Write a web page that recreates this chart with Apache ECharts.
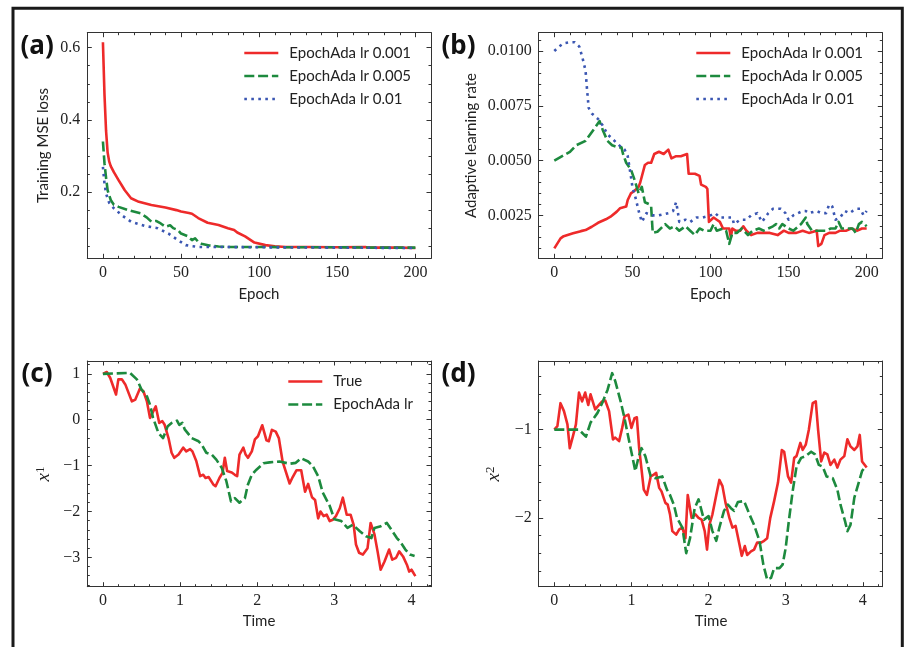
<!DOCTYPE html>
<html>
<head>
<meta charset="utf-8">
<script src="https://cdn.jsdelivr.net/npm/echarts@6/dist/echarts.min.js"></script>
<style>
html,body{margin:0;padding:0;background:#fff;}
#chart{width:918px;height:647px;}
</style>
</head>
<body>
<div id="chart"></div>
<script>
// ---------- Data ----------
// (a) Training MSE loss vs epoch
const aEpochR = [0,1,2,3,4,5,7,10,14,18,23,31,40,47,50,55,57,58,61,67,74,80,84,85,86,91,97,104,110,117,130,150,168,170,190,200];
const aLossR  = [0.615,0.47,0.37,0.31,0.285,0.272,0.255,0.233,0.205,0.183,0.173,0.164,0.157,0.150,0.146,0.142,0.140,0.143,0.128,0.115,0.109,0.100,0.095,0.098,0.088,0.077,0.060,0.053,0.050,0.048,0.048,0.047,0.048,0.046,0.046,0.045];
const aEpochG = [0,1,2,3,5,7,10,16,24,28,31,34,37,40,43,45,48,50,54,57,59,61,63,68,74,80,100,120,150,180,200];
const aLossG  = [0.34,0.28,0.24,0.205,0.178,0.165,0.159,0.150,0.141,0.130,0.118,0.120,0.113,0.104,0.108,0.100,0.095,0.085,0.078,0.067,0.072,0.062,0.057,0.052,0.049,0.048,0.048,0.047,0.047,0.046,0.046];
const aEpochB = [0,1,2,4,7,12,18,27,35,42,48,53,57,61,70,100,150,200];
const aLossB  = [0.27,0.224,0.196,0.17,0.155,0.136,0.118,0.106,0.100,0.085,0.067,0.053,0.050,0.048,0.048,0.047,0.046,0.045];

// (b) Adaptive learning rate vs epoch
const bEpochR = [0,4,6,12,17,20,24,28,33,36,40,42,46,47,49,51,54,55,58,60,62,64,67,70,73,75,78,81,85,86,90,93,94,97,98,99,102,104,106,108,112,113,114,116,119,121,123,126,130,134,138,143,147,150,155,159,163,168,169,171,173,176,180,183,187,190,194,197,200];
const bRateR  = [0.00099,0.00145,0.00155,0.00168,0.00178,0.00183,0.00198,0.00216,0.00232,0.00244,0.00267,0.00282,0.0029,0.0032,0.0035,0.0036,0.0038,0.004,0.0048,0.0049,0.0049,0.0053,0.0054,0.0053,0.0055,0.0051,0.0052,0.0052,0.0053,0.0044,0.0044,0.0043,0.0039,0.0038,0.0037,0.0022,0.0024,0.0023,0.0022,0.0019,0.0019,0.0015,0.0019,0.0018,0.0018,0.002,0.0018,0.0016,0.0017,0.0017,0.0017,0.0016,0.0018,0.0017,0.0017,0.0018,0.0017,0.0018,0.0011,0.0012,0.0016,0.0017,0.0017,0.0018,0.0018,0.0019,0.0018,0.0019,0.0019];
const bEpochG = [0,10,14,20,25,28,29,31,34,37,41,43,44,46,49,51,54,56,58,61,62,63,66,71,74,77,80,84,87,90,93,96,100,102,104,108,110,112,114,117,120,124,127,131,134,137,140,142,144,146,150,153,158,161,162,165,169,174,177,180,182,184,187,191,193,195,197,200];
const bRateG  = [0.005,0.0054,0.0057,0.0059,0.0064,0.0067,0.0068,0.0064,0.0059,0.0057,0.0056,0.0056,0.0053,0.0049,0.0046,0.0042,0.0035,0.0038,0.0031,0.003,0.0029,0.0017,0.00175,0.0021,0.0019,0.002,0.0018,0.002,0.0018,0.0016,0.0019,0.0018,0.0018,0.0021,0.0018,0.0019,0.0018,0.0012,0.0017,0.0017,0.0019,0.0016,0.0018,0.0019,0.0018,0.0019,0.002,0.0021,0.0019,0.0021,0.0019,0.0018,0.0021,0.0024,0.0021,0.0018,0.0018,0.0018,0.0019,0.0019,0.0022,0.0019,0.0019,0.0019,0.0017,0.0021,0.0022,0.002];
const bEpochB = [0,3,6,10,13,16,18,20,21,22,24,28,31,34,37,40,43,45,47,49,50,52,54,56,59,63,67,73,76,78,79,80,84,87,91,95,100,103,106,110,114,115,119,123,126,130,133,135,137,140,145,148,150,153,156,159,161,163,168,171,174,176,178,180,183,186,189,191,194,196,198,200];
const bRateB  = [0.01,0.0102,0.01035,0.0104,0.0104,0.0102,0.0097,0.0091,0.0082,0.0074,0.00715,0.0069,0.0066,0.0062,0.006,0.0058,0.0056,0.0055,0.0052,0.0043,0.0038,0.0033,0.0027,0.0022,0.0026,0.0025,0.0025,0.0026,0.0027,0.0031,0.0027,0.0022,0.0023,0.0022,0.0024,0.0024,0.0025,0.0026,0.0024,0.0024,0.0024,0.0021,0.0023,0.0023,0.0025,0.0026,0.0022,0.0024,0.0026,0.0028,0.0028,0.0026,0.0023,0.0025,0.0026,0.0027,0.0027,0.0026,0.0027,0.0026,0.0026,0.003,0.0029,0.0023,0.0024,0.0027,0.0026,0.0027,0.0028,0.0028,0.0025,0.0027];

// (c) x^1 vs time
const cTimeT = [0,0.05,0.095,0.17,0.2,0.245,0.29,0.375,0.42,0.48,0.525,0.57,0.61,0.685,0.73,0.77,0.8,0.85,0.89,0.925,0.98,1.04,1.08,1.13,1.16,1.21,1.26,1.3,1.33,1.37,1.43,1.46,1.51,1.55,1.58,1.61,1.67,1.71,1.74,1.77,1.82,1.85,1.88,1.93,1.97,2.01,2.065,2.12,2.15,2.19,2.24,2.28,2.33,2.42,2.46,2.51,2.57,2.62,2.66,2.71,2.75,2.79,2.82,2.86,2.9,2.94,2.98,3.02,3.07,3.11,3.16,3.21,3.25,3.28,3.32,3.37,3.43,3.47,3.52,3.56,3.6,3.65,3.71,3.75,3.8,3.84,3.89,3.94,3.97,4.0,4.05];
const cTrue  = [1.0,1.04,0.91,0.55,0.88,0.88,0.77,0.40,0.44,0.68,0.62,0.40,0.04,0.29,-0.07,-0.03,-0.11,-0.4,-0.72,-0.83,-0.76,-0.61,-0.69,-0.64,-0.69,-0.9,-1.23,-1.2,-1.27,-1.25,-1.41,-1.45,-1.27,-1.16,-0.83,-1.12,-1.15,-1.2,-1.23,-0.76,-0.61,-0.76,-0.83,-0.69,-0.43,-0.36,-0.12,-0.45,-0.47,-0.22,-0.26,-0.4,-0.92,-1.39,-1.25,-1.1,-1.1,-1.57,-1.4,-1.69,-1.75,-2.15,-2.0,-2.1,-2.07,-2.21,-2.18,-2.1,-1.93,-1.7,-2.07,-2.07,-2.29,-2.72,-2.9,-2.94,-2.8,-2.25,-2.5,-2.87,-3.27,-3.09,-2.83,-3.05,-3.01,-2.87,-2.98,-3.16,-3.31,-3.27,-3.41];
const cTimeE = [0,0.35,0.44,0.5,0.57,0.61,0.65,0.72,0.78,0.84,0.89,0.96,0.99,1.03,1.06,1.15,1.24,1.28,1.34,1.41,1.47,1.54,1.6,1.66,1.71,1.77,1.84,1.88,1.93,1.99,2.08,2.16,2.29,2.42,2.5,2.57,2.66,2.72,2.79,2.85,2.94,3.0,3.09,3.17,3.24,3.33,3.41,3.48,3.52,3.59,3.68,3.74,3.81,3.85,3.92,3.98,4.04];
const cEst   = [1.0,1.02,0.88,0.66,0.51,0.33,0.04,-0.29,-0.4,-0.14,-0.07,-0.02,-0.11,-0.07,-0.21,-0.4,-0.47,-0.54,-0.72,-0.76,-0.87,-1.05,-1.34,-1.78,-1.71,-1.81,-1.71,-1.41,-1.2,-1.09,-0.95,-0.93,-0.91,-0.96,-0.94,-0.84,-0.91,-1.01,-1.23,-1.59,-1.88,-2.17,-2.21,-2.36,-2.29,-2.43,-2.54,-2.58,-2.36,-2.33,-2.25,-2.4,-2.58,-2.65,-2.83,-2.94,-2.97];

// (d) x^2 vs time
const dTimeT = [0,0.04,0.08,0.125,0.17,0.2,0.24,0.28,0.32,0.36,0.4,0.44,0.47,0.53,0.58,0.62,0.66,0.71,0.76,0.79,0.84,0.88,0.91,0.96,1.0,1.04,1.07,1.1,1.16,1.2,1.25,1.29,1.32,1.36,1.39,1.44,1.47,1.5,1.53,1.58,1.62,1.66,1.7,1.73,1.78,1.83,1.87,1.91,1.95,1.98,2.01,2.05,2.1,2.14,2.18,2.22,2.27,2.31,2.35,2.4,2.43,2.47,2.5,2.55,2.59,2.63,2.68,2.72,2.76,2.8,2.85,2.9,2.95,2.98,3.03,3.07,3.11,3.14,3.19,3.22,3.26,3.3,3.35,3.39,3.42,3.46,3.5,3.54,3.58,3.63,3.67,3.71,3.76,3.8,3.84,3.89,3.93,3.96,3.99,4.05];
const dTrue  = [-1.0,-0.96,-0.7,-0.79,-0.94,-1.21,-1.08,-0.94,-0.58,-0.68,-0.58,-0.72,-0.6,-0.77,-0.72,-0.68,-0.67,-0.79,-1.11,-1.09,-1.13,-0.98,-0.85,-0.83,-0.98,-0.87,-0.86,-1.21,-1.68,-1.74,-1.53,-1.51,-1.49,-1.66,-1.7,-1.83,-1.85,-1.96,-2.15,-2.19,-2.13,-2.11,-2.23,-1.74,-2.0,-1.96,-2.0,-2.02,-2.15,-2.36,-2.08,-1.96,-1.74,-1.57,-1.64,-1.83,-2.0,-2.11,-2.09,-2.3,-2.43,-2.32,-2.42,-2.38,-2.36,-2.28,-2.28,-2.26,-2.23,-2.0,-1.81,-1.6,-1.23,-1.25,-1.53,-1.6,-1.32,-1.3,-1.15,-1.23,-1.17,-1.0,-0.7,-0.68,-1.0,-1.36,-1.26,-1.28,-1.4,-1.34,-1.43,-1.34,-1.3,-1.11,-1.19,-1.23,-1.19,-1.06,-1.36,-1.43];
const dTimeE = [0,0.32,0.41,0.47,0.56,0.62,0.69,0.75,0.79,0.86,0.91,0.97,1.02,1.05,1.09,1.13,1.18,1.25,1.31,1.4,1.46,1.5,1.55,1.59,1.66,1.71,1.76,1.82,1.87,1.94,2.0,2.05,2.1,2.14,2.2,2.25,2.29,2.33,2.38,2.46,2.53,2.59,2.66,2.71,2.76,2.81,2.85,2.92,2.96,3.0,3.04,3.09,3.14,3.2,3.26,3.33,3.38,3.43,3.48,3.53,3.61,3.67,3.71,3.77,3.8,3.84,3.89,3.94,3.99,4.03];
const dEst   = [-1.0,-1.0,-1.08,-0.92,-0.81,-0.7,-0.55,-0.36,-0.45,-0.68,-0.87,-1.13,-1.34,-1.47,-1.32,-1.21,-1.3,-1.53,-1.55,-1.53,-1.68,-1.74,-1.85,-2.0,-2.11,-2.4,-2.23,-1.89,-1.79,-2.02,-1.98,-2.15,-2.26,-2.11,-1.92,-1.85,-1.89,-1.92,-1.82,-1.81,-1.96,-2.08,-2.26,-2.53,-2.7,-2.68,-2.57,-2.57,-2.53,-2.34,-2.04,-1.7,-1.42,-1.32,-1.3,-1.25,-1.28,-1.4,-1.42,-1.53,-1.55,-1.68,-1.85,-2.04,-2.15,-2.08,-1.77,-1.62,-1.47,-1.42];

// Tick values
const epochTicks = [0, 50, 100, 150, 200];
const epochMinor = [-10, 10, 20, 30, 40, 60, 70, 80, 90, 110, 120, 130, 140, 160, 170, 180, 190, 210];
const lossTicks = [0.2, 0.4, 0.6];
const lossMinor = [0.05, 0.1, 0.15, 0.25, 0.3, 0.35, 0.45, 0.5, 0.55];
const rateTicks = [0.0025, 0.005, 0.0075, 0.01];
const rateMinor = [0.001, 0.0015, 0.002, 0.003, 0.0035, 0.004, 0.0045, 0.0055, 0.006, 0.0065, 0.007, 0.008, 0.0085, 0.009, 0.0095, 0.0105];
const timeTicks = [0, 1, 2, 3, 4];
const timeMinor = [0.2, 0.4, 0.6, 0.8, 1.2, 1.4, 1.6, 1.8, 2.2, 2.4, 2.6, 2.8, 3.2, 3.4, 3.6, 3.8, 4.2];
const x1Ticks = [-3, -2, -1, 0, 1];
const x1Minor = [-3.6, -3.4, -3.2, -2.8, -2.6, -2.4, -2.2, -1.8, -1.6, -1.4, -1.2, -0.8, -0.6, -0.4, -0.2, 0.2, 0.4, 0.6, 0.8, 1.2];
const x2Ticks = [-2, -1];
const x2Minor = [-2.6, -2.4, -2.2, -1.8, -1.6, -1.4, -1.2, -0.8, -0.6, -0.4];

const legendAB = ['EpochAda lr 0.001', 'EpochAda lr 0.005', 'EpochAda lr 0.01'];
const legendCD = ['True', 'EpochAda lr'];

// ---------- Styles ----------
const RED = '#ee2a2a', GREEN = '#1d8a3e', BLUE = '#3a56b2';
const LW = 2.6;
const DASH = [10, 3.8];
const DOT = [2.6, 4.4];
const AXC = '#333';
const TICKFONT = "'Liberation Serif', 'DejaVu Serif', serif";
const SANS = 'Lato';

function pairs(xs, ys) { return xs.map((x, i) => [x, ys[i]]); }
function minusFmt(v) { return v < 0 ? '\u2212' + Math.abs(v) : String(v); }

const grids = [
  {left: 87.3, top: 32.7, width: 343.7, height: 225.6},
  {left: 538.7, top: 32.7, width: 343.6, height: 225.6},
  {left: 87.3, top: 361, width: 343.7, height: 225.7},
  {left: 538.7, top: 361, width: 343.6, height: 225.7}
];

function makeAxes(gi, dim, min, max, majors, minors, fmt) {
  const mainPos = dim === 'x' ? 'bottom' : 'left';
  const oppPos = dim === 'x' ? 'top' : 'right';
  const base = {gridIndex: gi, type: 'value', min: min, max: max, splitLine: {show: false}, scale: true};
  const lineOn = {show: true, onZero: false, lineStyle: {color: AXC, width: 1}};
  const lineOff = {show: false, onZero: false};
  return [
    Object.assign({}, base, {
      position: mainPos, axisLine: lineOn,
      axisTick: {show: true, inside: true, length: 4.5, customValues: majors, lineStyle: {color: AXC, width: 1}},
      axisLabel: {show: true, customValues: majors, formatter: fmt, margin: dim === 'x' ? 6 : 7,
        fontFamily: TICKFONT, fontSize: 16, color: '#222'}
    }),
    Object.assign({}, base, {
      position: oppPos, axisLine: lineOn,
      axisTick: {show: true, inside: true, length: 4.5, customValues: majors, lineStyle: {color: AXC, width: 1}},
      axisLabel: {show: false}
    }),
    Object.assign({}, base, {
      position: mainPos, axisLine: lineOff,
      axisTick: {show: true, inside: true, length: 2.5, customValues: minors, lineStyle: {color: AXC, width: 1}},
      axisLabel: {show: false}
    }),
    Object.assign({}, base, {
      position: oppPos, axisLine: lineOff,
      axisTick: {show: true, inside: true, length: 2.5, customValues: minors, lineStyle: {color: AXC, width: 1}},
      axisLabel: {show: false}
    })
  ];
}

const xAxes = [].concat(
  makeAxes(0, 'x', -10, 210, epochTicks, epochMinor, v => String(v)),
  makeAxes(1, 'x', -10, 210, epochTicks, epochMinor, v => String(v)),
  makeAxes(2, 'x', -0.2025, 4.2525, timeTicks, timeMinor, minusFmt),
  makeAxes(3, 'x', -0.2025, 4.2525, timeTicks, timeMinor, minusFmt)
);
const yAxes = [].concat(
  makeAxes(0, 'y', 0.0165, 0.6415, lossTicks, lossMinor, v => v.toFixed(1)),
  makeAxes(1, 'y', 0.00054, 0.010835, rateTicks, rateMinor, v => v.toFixed(4)),
  makeAxes(2, 'y', -3.64, 1.28, x1Ticks, x1Minor, minusFmt),
  makeAxes(3, 'y', -2.78, -0.222, x2Ticks, x2Minor, minusFmt)
);

function lineSeries(name, gi, data, color, type, z) {
  return {
    name: name, type: 'line', xAxisIndex: gi * 4, yAxisIndex: gi * 4,
    data: data, showSymbol: false, symbol: 'none', animation: false, z: z,
    lineStyle: {color: color, width: LW, type: type, join: 'round'},
    itemStyle: {color: color}, emphasis: {disabled: true}
  };
}

const series = [
  lineSeries(legendAB[0], 0, pairs(aEpochR, aLossR), RED, 'solid', 3),
  lineSeries(legendAB[1], 0, pairs(aEpochG, aLossG), GREEN, DASH, 4),
  lineSeries(legendAB[2], 0, pairs(aEpochB, aLossB), BLUE, DOT, 5),
  lineSeries(legendAB[0], 1, pairs(bEpochR, bRateR), RED, 'solid', 3),
  lineSeries(legendAB[1], 1, pairs(bEpochG, bRateG), GREEN, DASH, 4),
  lineSeries(legendAB[2], 1, pairs(bEpochB, bRateB), BLUE, DOT, 5),
  lineSeries(legendCD[0], 2, pairs(cTimeT, cTrue), RED, 'solid', 3),
  lineSeries(legendCD[1], 2, pairs(cTimeE, cEst), GREEN, DASH, 4),
  lineSeries(legendCD[0], 3, pairs(dTimeT, dTrue), RED, 'solid', 3),
  lineSeries(legendCD[1], 3, pairs(dTimeE, dEst), GREEN, DASH, 4)
];

function legendAt(names, left, top) {
  return {
    data: names, left: left, top: top, orient: 'vertical', selectedMode: false,
    itemWidth: 34, itemHeight: 14, itemGap: 8, padding: 0,
    lineStyle: {width: LW},
    itemStyle: {opacity: 0, borderWidth: 0},
    textStyle: {fontFamily: SANS, fontSize: 15, color: '#222', lineHeight: 14, padding: [0, 0, 0, 6]}
  };
}

function txt(text, x, y, opts) {
  return Object.assign({
    type: 'text', x: x, y: y, silent: true,
    style: Object.assign({text: text, fill: '#222', fontFamily: SANS, fontSize: 15, align: 'center', verticalAlign: 'middle'}, opts || {})
  });
}
function rot(el) { el.rotation = Math.PI / 2; return el; }
function panel(label, x, y) {
  return txt(label, x, y, {align: 'left', fontFamily: 'Noto Sans', fontWeight: 'bold', fontSize: 26, fill: '#111'});
}
function supLabel(n, x, y) {
  return rot({
    type: 'text', x: x, y: y, silent: true,
    style: {
      text: '{v|x}{s|' + n + '}', align: 'center', verticalAlign: 'middle', fill: '#222',
      rich: {
        v: {fontFamily: TICKFONT, fontStyle: 'italic', fontSize: 19, verticalAlign: 'bottom', fill: '#222'},
        s: {fontFamily: TICKFONT, fontSize: 13, verticalAlign: 'top', fill: '#222'}
      }
    }
  });
}

const graphics = [
  {type: 'rect', silent: true, shape: {x: 13, y: 8.3, width: 889.3, height: 700},
   style: {fill: 'none', stroke: '#1a1a1a', lineWidth: 3}},
  panel('(a)', 20.5, 47),
  panel('(b)', 441.5, 47),
  panel('(c)', 21.5, 374.5),
  panel('(d)', 441.5, 374.5),
  txt('Epoch', 259, 294),
  txt('Epoch', 710.5, 294),
  txt('Time', 259, 621.5),
  txt('Time', 711, 621.5),
  rot(txt('Training MSE loss', 43.5, 145.5)),
  rot(txt('Adaptive learning rate', 471, 145.5)),
  supLabel('1', 44, 474),
  supLabel('2', 494, 474)
];

const chart = echarts.init(document.getElementById('chart'), null, {renderer: 'canvas'});
chart.setOption({
  animation: false,
  backgroundColor: '#fff',
  grid: grids,
  xAxis: xAxes,
  yAxis: yAxes,
  legend: [
    legendAt(legendAB, 243, 45.5),
    legendAt(legendAB, 695, 45.5),
    legendAt(legendCD, 287, 374)
  ],
  series: series,
  graphic: graphics
});
</script>
</body>
</html>
